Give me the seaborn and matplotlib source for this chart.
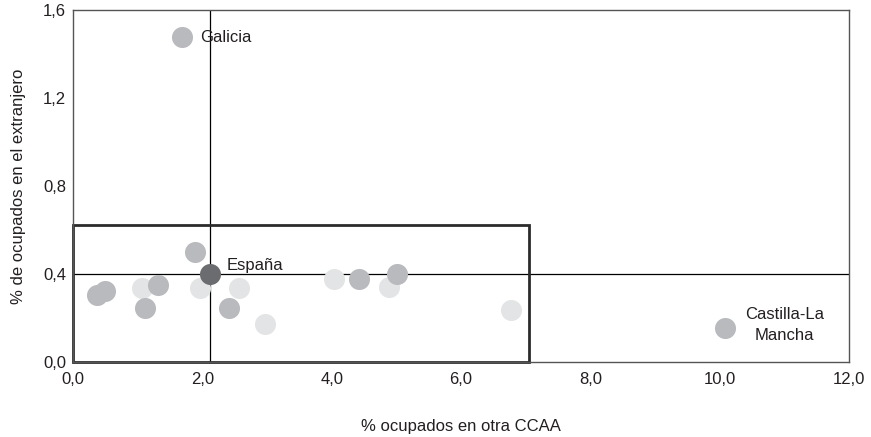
import numpy as np
import pandas as pd
import matplotlib
matplotlib.use("Agg")
import matplotlib.pyplot as plt
import matplotlib.patches as patches
from matplotlib.ticker import FuncFormatter
import seaborn as sns

# datos
otra_ccaa = [0.37, 0.49, 1.06, 1.32, 1.11, 1.89, 1.96, 2.56, 2.41, 2.97,
             4.03, 4.42, 4.89, 5.01, 6.77, 1.69, 10.08, 2.12]
extranjero = [0.305, 0.323, 0.338, 0.350, 0.244, 0.501, 0.338, 0.338, 0.247, 0.171,
              0.376, 0.377, 0.342, 0.399, 0.236, 1.477, 0.155, 0.400]
tono = ["medio", "medio", "claro", "medio", "medio", "medio", "claro", "claro", "medio", "claro",
        "claro", "medio", "claro", "medio", "claro", "medio", "medio", "espana"]
etiquetas = {"Galicia": (1.96, 1.477), "España": (2.37, 0.44), "Castilla-La\nMancha": (11.0, 0.17)}

media_x = 2.12
media_y = 0.40
caja_x = 7.05
caja_y = 0.625

df = pd.DataFrame({"x": otra_ccaa, "y": extranjero, "tono": tono})
orden = {"claro": 0, "medio": 1, "espana": 2}
df["o"] = df["tono"].map(orden)
df = df.sort_values("o")

sns.set_style("white")
plt.rcParams['font.family'] = ['Liberation Sans', 'DejaVu Sans']

fig = plt.figure(figsize=(8.71, 4.37), dpi=100)
ax = fig.add_axes([0.0838, 0.1716, 0.891, 0.8055])

ax.axvline(media_x, color="black", lw=0.9, zorder=1)
ax.axhline(media_y, color="black", lw=0.9, zorder=1)

colores = {"claro": "#e3e4e5", "medio": "#b9babd", "espana": "#6b6c6f"}
for t in ["claro", "medio", "espana"]:
    sub = df[df["tono"] == t]
    sns.scatterplot(data=sub, x="x", y="y", color=colores[t], s=230, linewidth=0,
                    ax=ax, zorder=3 + orden[t], legend=False)

ax.add_patch(patches.Rectangle((0, 0), caja_x, caja_y, fill=False, edgecolor="#2b2b2b",
                               lw=2.0, zorder=2, clip_on=False))

txt = "#231f20"
for texto, (tx, ty) in etiquetas.items():
    if "\n" in texto:
        ax.text(tx, ty, texto, ha="center", va="center", fontsize=12, color=txt,
                linespacing=1.5, zorder=6)
    else:
        ax.text(tx, ty, texto, ha="left", va="center", fontsize=12, color=txt, zorder=6)

ax.set_xlim(0, 12)
ax.set_ylim(0, 1.6)
ax.set_xticks([0, 2, 4, 6, 8, 10, 12])
ax.set_yticks([0, 0.4, 0.8, 1.2, 1.6])
coma = FuncFormatter(lambda v, p: f"{v:.1f}".replace(".", ","))
ax.xaxis.set_major_formatter(coma)
ax.yaxis.set_major_formatter(coma)
ax.tick_params(axis="both", length=0, labelsize=12, colors=txt)
ax.tick_params(axis="x", pad=7)
ax.tick_params(axis="y", pad=5)

for s in ax.spines.values():
    s.set_color("#555555")
    s.set_linewidth(1.0)

ax.set_xlabel("% ocupados en otra CCAA", fontsize=12, color=txt, labelpad=23)
ax.set_ylabel("% de ocupados en el extranjero", fontsize=12, color=txt, labelpad=12)

fig.savefig("out.png", dpi=100)
